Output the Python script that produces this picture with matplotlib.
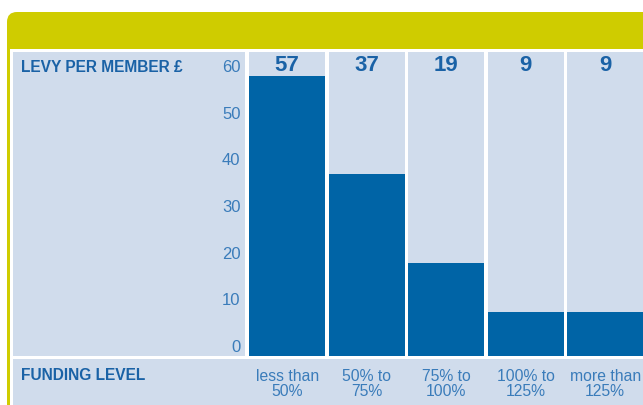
import matplotlib
matplotlib.use("Agg")
import matplotlib.pyplot as plt
from matplotlib.patches import Rectangle, FancyBboxPatch

# data
categories = ["less than\n50%", "50% to\n75%", "75% to\n100%", "100% to\n125%", "more than\n125%"]
levy = [57, 37, 19, 9, 9]
ticks = [0, 10, 20, 30, 40, 50, 60]

yellow = "#cfcc00"
panel = "#d0dcec"
bar_col = "#0064a6"
txt_col = "#1a62a6"
tick_col = "#3a7cba"

plt.rcParams['font.family'] = ['Liberation Sans', 'DejaVu Sans']

W, H = 643, 405
fig = plt.figure(figsize=(W / 100, H / 100), dpi=100)

# background drawn in pixel coords
bg = fig.add_axes([0, 0, 1, 1])
bg.set_xlim(0, W)
bg.set_ylim(H, 0)
bg.axis("off")
bg.add_patch(FancyBboxPatch((7, 12), 700, 500, boxstyle="round,pad=0,rounding_size=10",
                            fc=yellow, ec="none"))
bg.add_patch(Rectangle((10, 49), 700, 500, fc="white", ec="none"))
bg.add_patch(Rectangle((13, 52), 232, 304, fc=panel, ec="none"))
bg.add_patch(Rectangle((13, 359), 700, 60, fc=panel, ec="none"))
bg.text(21, 67, "LEVY PER MEMBER £", color=txt_col, fontsize=11.2, fontweight="bold",
        va="center", ha="left")
bg.text(21, 375, "FUNDING LEVEL", color=txt_col, fontsize=11.2, fontweight="bold",
        va="center", ha="left")

# bars
x0, x1, ytop, ybot = 247.5, 645, 52, 356
scale = 4.92
ax = fig.add_axes([x0 / W, (H - ybot) / H, (x1 - x0) / W, (ybot - ytop) / H])
ax.set_xlim(-0.5, len(levy) - 0.5)
ax.set_ylim(0, (ybot - ytop) / scale)
ax.axis("off")
w = 76 / 79.5
xs = list(range(len(levy)))
for i in xs:
    ax.axvspan(i - w / 2, i + w / 2, color=panel, lw=0)
ax.bar(xs, levy, width=w, color=bar_col)
for i, v in enumerate(levy):
    ax.text(i, (ybot - 66) / scale, str(v), ha="center", va="center",
            color=txt_col, fontsize=16, fontweight="bold")
for i, c in enumerate(categories):
    ax.annotate(c, (i, 0), xytext=(0, -9.5), textcoords="offset points",
                ha="center", va="top", color=tick_col, fontsize=11.3, linespacing=0.95)

# tick labels on their own scale
tax = fig.add_axes([x0 / W, (H - ybot) / H, (x1 - x0) / W, (ybot - ytop) / H])
tax.patch.set_visible(False)
ts = 280 / 60
tax.set_ylim(-(356 - 346) / ts, (346 - 52) / ts)
tax.set_xlim(0, 1)
for s in tax.spines.values():
    s.set_visible(False)
tax.set_xticks([])
tax.set_yticks(ticks)
tax.tick_params(axis="y", length=0, pad=5, labelcolor=tick_col, labelsize=12)

fig.savefig("out.png", dpi=100)
